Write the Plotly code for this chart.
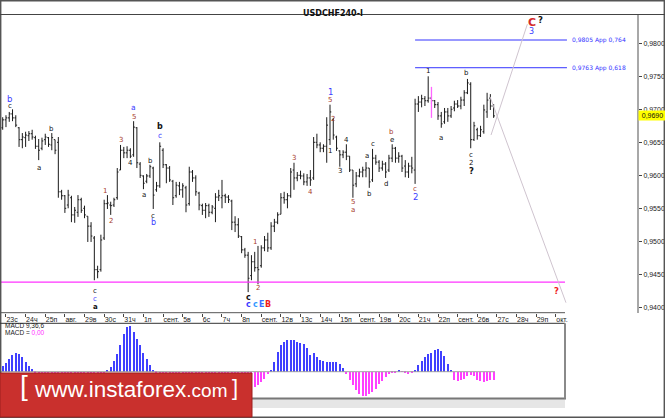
import plotly.graph_objects as go

W, H = 665, 418

# ---------------- DATA (USDCHF H4) ----------------
bar_high = [0.9688,0.9691,0.9696,0.9700,0.9691,0.9673,0.9664,0.9666,0.9667,0.9669,
            0.9660,0.9655,0.9657,0.9663,0.9658,0.9664,0.9654,0.9658,0.9578,0.9570,
            0.9578,0.9569,0.9552,0.9570,0.9566,0.9554,0.9538,0.9529,0.9508,0.9463,
            0.9510,0.9563,0.9570,0.9560,0.9566,0.9611,0.9646,0.9643,0.9644,0.9641,
            0.9682,0.9673,0.9620,0.9600,0.9602,0.9616,0.9613,0.9590,0.9650,0.9641,
            0.9617,0.9614,0.9593,0.9590,0.9590,0.9588,0.9584,0.9613,0.9608,0.9600,
            0.9575,0.9557,0.9558,0.9557,0.9555,0.9573,0.9578,0.9593,0.9572,0.9570,
            0.9563,0.9538,0.9535,0.9508,0.9490,0.9484,0.9479,0.9484,0.9493,0.9494,
            0.9508,0.9513,0.9529,0.9534,0.9544,0.9573,0.9575,0.9573,0.9611,0.9619,
            0.9605,0.9607,0.9603,0.9602,0.9608,0.9658,0.9663,0.9650,0.9647,0.9688,
            0.9707,0.9687,0.9660,0.9638,0.9638,0.9647,0.9629,0.9608,0.9605,0.9610,
            0.9613,0.9620,0.9611,0.9640,0.9631,0.9623,0.9622,0.9620,0.9631,0.9647,
            0.9643,0.9635,0.9631,0.9623,0.9619,0.9628,0.9716,0.9720,0.9722,0.9720,
            0.9750,0.9720,0.9714,0.9711,0.9696,0.9702,0.9702,0.9705,0.9713,0.9714,
            0.9719,0.9729,0.9746,0.9741,0.9681,0.9672,0.9675,0.9707,0.9725,0.9723,
            0.9708]
bar_low = [0.9669,0.9673,0.9681,0.9682,0.9673,0.9643,0.9641,0.9643,0.9652,0.9654,
           0.9640,0.9623,0.9638,0.9646,0.9643,0.9638,0.9632,0.9566,0.9563,0.9543,
           0.9550,0.9529,0.9528,0.9537,0.9543,0.9535,0.9499,0.9499,0.9441,0.9444,
           0.9454,0.9502,0.9549,0.9540,0.9552,0.9563,0.9608,0.9626,0.9626,0.9626,
           0.9628,0.9611,0.9596,0.9579,0.9588,0.9596,0.9549,0.9575,0.9581,0.9611,
           0.9588,0.9590,0.9555,0.9566,0.9570,0.9566,0.9544,0.9554,0.9590,0.9569,
           0.9547,0.9540,0.9535,0.9537,0.9541,0.9529,0.9561,0.9550,0.9558,0.9558,
           0.9517,0.9514,0.9505,0.9482,0.9475,0.9423,0.9441,0.9454,0.9435,0.9460,
           0.9485,0.9484,0.9487,0.9514,0.9526,0.9541,0.9557,0.9550,0.9566,0.9578,
           0.9591,0.9594,0.9585,0.9584,0.9584,0.9593,0.9641,0.9635,0.9635,0.9619,
           0.9646,0.9654,0.9637,0.9613,0.9626,0.9623,0.9605,0.9566,0.9582,0.9597,
           0.9597,0.9597,0.9581,0.9590,0.9616,0.9605,0.9607,0.9596,0.9605,0.9620,
           0.9619,0.9619,0.9605,0.9597,0.9596,0.9603,0.9587,0.9696,0.9703,0.9705,
           0.9710,0.9708,0.9702,0.9684,0.9672,0.9678,0.9681,0.9687,0.9697,0.9702,
           0.9700,0.9705,0.9723,0.9641,0.9652,0.9654,0.9658,0.9663,0.9687,0.9699,
           0.9687]
bar_open = [0.9672,0.9684,0.9687,0.9693,0.9687,0.9672,0.9654,0.9657,0.9660,0.9663,
            0.9657,0.9644,0.9641,0.9654,0.9657,0.9646,0.9654,0.9650,0.9575,0.9569,
            0.9555,0.9566,0.9540,0.9544,0.9563,0.9550,0.9538,0.9523,0.9505,0.9457,
            0.9457,0.9505,0.9557,0.9555,0.9555,0.9566,0.9608,0.9638,0.9634,0.9638,
            0.9631,0.9672,0.9617,0.9599,0.9591,0.9599,0.9611,0.9578,0.9584,0.9638,
            0.9616,0.9611,0.9591,0.9569,0.9584,0.9578,0.9581,0.9557,0.9605,0.9596,
            0.9573,0.9554,0.9547,0.9554,0.9544,0.9550,0.9567,0.9566,0.9569,0.9567,
            0.9561,0.9529,0.9525,0.9507,0.9487,0.9479,0.9448,0.9469,0.9460,0.9463,
            0.9490,0.9502,0.9490,0.9523,0.9529,0.9541,0.9566,0.9563,0.9569,0.9608,
            0.9596,0.9600,0.9599,0.9590,0.9596,0.9596,0.9650,0.9646,0.9641,0.9644,
            0.9654,0.9684,0.9658,0.9637,0.9631,0.9635,0.9629,0.9608,0.9587,0.9599,
            0.9605,0.9608,0.9611,0.9593,0.9626,0.9620,0.9611,0.9617,0.9608,0.9626,
            0.9641,0.9626,0.9629,0.9614,0.9605,0.9614,0.9608,0.9708,0.9711,0.9716,
            0.9713,0.9717,0.9713,0.9707,0.9690,0.9681,0.9696,0.9690,0.9702,0.9708,
            0.9705,0.9714,0.9725,0.9738,0.9654,0.9669,0.9660,0.9666,0.9696,0.9717,
            0.9705]
bar_close = [0.9684,0.9687,0.9693,0.9687,0.9676,0.9654,0.9658,0.9661,0.9663,0.9658,
             0.9644,0.9638,0.9652,0.9658,0.9647,0.9657,0.9638,0.9575,0.9569,0.9550,
             0.9570,0.9540,0.9547,0.9563,0.9547,0.9540,0.9523,0.9508,0.9457,0.9454,
             0.9502,0.9557,0.9558,0.9554,0.9563,0.9605,0.9638,0.9634,0.9638,0.9629,
             0.9673,0.9619,0.9600,0.9588,0.9599,0.9613,0.9570,0.9584,0.9644,0.9616,
             0.9611,0.9593,0.9566,0.9585,0.9578,0.9584,0.9555,0.9605,0.9596,0.9575,
             0.9555,0.9547,0.9554,0.9544,0.9552,0.9567,0.9569,0.9569,0.9567,0.9563,
             0.9529,0.9525,0.9508,0.9487,0.9479,0.9444,0.9469,0.9460,0.9457,0.9490,
             0.9502,0.9490,0.9523,0.9529,0.9540,0.9566,0.9563,0.9569,0.9605,0.9596,
             0.9600,0.9599,0.9590,0.9596,0.9593,0.9650,0.9646,0.9641,0.9644,0.9676,
             0.9696,0.9661,0.9641,0.9631,0.9635,0.9629,0.9608,0.9585,0.9599,0.9605,
             0.9608,0.9611,0.9590,0.9626,0.9620,0.9611,0.9617,0.9605,0.9626,0.9641,
             0.9626,0.9629,0.9611,0.9605,0.9614,0.9611,0.9708,0.9711,0.9716,0.9713,
             0.9717,0.9713,0.9707,0.9690,0.9678,0.9696,0.9690,0.9700,0.9708,0.9705,
             0.9714,0.9725,0.9740,0.9654,0.9675,0.9660,0.9669,0.9699,0.9714,0.9705,
             0.9690]

# MACD(9,36,6) histogram, in points (0.0001)
macd_hist = [5.7,8.3,12.3,16.7,18.3,18.0,14.5,9.5,5.7,2.3,
             -1,-3,-5,-7,-9,-11,-12,-14,-17,-19,-21,-23,-24,-25,-25,-24,-22,-20,-16,-11,-6,-2,
             1.7,5,11,18,27,38,45,46,40,33,27,19,13,7,2,
             -1,-2,-4,-5,-6,-7,-8,-9,-10,-10,-11,-12,-13,-14,-15,-16,-17,-18,-19,-19,
             -20,-20,-21,-21,-21,-20,-20,-19,-18,-17,
             -15,-13,-10,-7,-2,
             1.7,10,20,26.7,30,31.7,31.7,31.7,30,29,27.7,23.3,16.7,18.3,15,11.7,11,10,10,10,
             9.7,8,4,-2,-8,-13.7,-18.7,-22,-24.3,-24.3,-22,-20,-17,-12,-9.3,-5.3,-2.7,-1,-0.5,1,
             -0.3,-0.7,-2,-1,1.3,6.3,10.3,14.7,17.3,18.7,21.3,22.3,20.3,15.3,8,2,
             -8.7,-9.3,-8,-7,-4.7,-3.7,-4.7,-8,-9.3,-10.3,-9.3,-8,-8.7]

day_labels = ["23с","24ч","25п","авг.","29в","30с","31ч","1п","сент.","5в","6с","7ч","8п",
              "сент.","12в","13с","14ч","15п","сент.","19в","20с","21ч","22п","сент.",
              "26в","27с","28ч","29п","окт."]
bars_per_day = 6
price_ticks = [0.9400,0.9450,0.9500,0.9550,0.9600,0.9650,0.9700,0.9750,0.9800]
price_tick_text = ["0,9400","0,9450","0,9500","0,9550","0,9600","0,9650","0,9700","0,9750","0,9800"]

fib_levels = [0.9805, 0.9763]
fib_texts = ["0,9805 App 0,764", "0,9763 App 0,618"]
fib_start, fib_end = 126.0, 172.4
support_level = 0.9438
last_price = 0.9690
last_price_text = "0,9690"

proj_up = ([149.2, 160.3], [0.9661, 0.9829])
proj_down = ([148.9, 172.1], [0.9719, 0.9407])
pink_marker = ([131, 131], [0.9734, 0.9687])

BLUE = "#3c3cff"
BROWN = "#a8402c"
BLACK = "#111111"
RED = "#ee1c1c"

# (text, bar index, price, color, size, bold)
wave_labels = [
    ("b", 2.1, 0.9716, BLUE, 8.5, False), ("c", 2.1, 0.9705, BLACK, 7, False),
    ("b", 15.0, 0.9670, BLACK, 7, False), ("a", 11.2, 0.9611, BLACK, 7, False),
    ("3", 36.1, 0.9654, BROWN, 7, False), ("1", 31.3, 0.9576, BROWN, 7, False),
    ("2", 33.1, 0.9531, BROWN, 7, False), ("4", 39.1, 0.9619, BLACK, 7, False),
    ("a", 40.1, 0.9702, BLUE, 7.5, False), ("5", 40.1, 0.9688, BROWN, 7, False),
    ("b", 48.2, 0.9674, BLACK, 8, True), ("c", 48.1, 0.9661, BLUE, 7.5, False),
    ("b", 45.2, 0.9622, BLACK, 7, False), ("a", 43.2, 0.9570, BLACK, 7, False),
    ("c", 46.0, 0.9539, BLACK, 7, False), ("b", 46.0, 0.9528, BLUE, 8, False),
    ("c", 28.2, 0.9424, BLACK, 7, False), ("c", 28.2, 0.9413, BLUE, 7, False),
    ("a", 28.2, 0.9400, BLACK, 7, True),
    ("1", 77.1, 0.9499, BROWN, 7, False), ("2", 78.1, 0.9429, BROWN, 7, False),
    ("c", 75.0, 0.9415, BLACK, 8, True),
    ("c", 75.0, 0.9404, BLUE, 8, True), ("c", 77.1, 0.9404, "#3399ff", 8, True),
    ("E", 79.1, 0.9404, "#3a6cff", 8, True), ("B", 81.0, 0.9404, RED, 8, True),
    ("3", 89.1, 0.9626, BROWN, 7, False), ("4", 94.0, 0.9575, BROWN, 7, False),
    ("1", 100.0, 0.9726, BLUE, 8.5, False), ("5", 100.0, 0.9714, BROWN, 7, False),
    ("2", 101.0, 0.9685, BROWN, 7, False), ("1", 100.0, 0.9637, BLACK, 7, False),
    ("4", 105.1, 0.9654, BLACK, 7, False), ("3", 103.0, 0.9606, BLACK, 7, False),
    ("5", 107.0, 0.9560, BROWN, 7, False), ("a", 107.0, 0.9547, BROWN, 7, False),
    ("a", 111.2, 0.9630, BLACK, 7, False), ("b", 112.1, 0.9571, BLACK, 7, False),
    ("c", 113.0, 0.9647, BLACK, 7, False),
    ("b", 118.9, 0.9665, BROWN, 7, False), ("e", 118.9, 0.9653, BLACK, 7, False),
    ("d", 117.1, 0.9587, BLACK, 7, False),
    ("c", 126.0, 0.9579, BROWN, 7, False), ("2", 126.0, 0.9567, BLUE, 8.5, False),
    ("1", 130.0, 0.9758, BLACK, 7, False), ("a", 134.0, 0.9657, BLACK, 7, False),
    ("b", 141.8, 0.9755, BLACK, 7, False),
    ("c", 143.1, 0.9631, BLACK, 7, False), ("2", 143.1, 0.9619, BLACK, 7, False),
    ("?", 143.1, 0.9607, BLACK, 8.5, True),
    ("C", 161.6, 0.9831, "#d42a2a", 11, True), ("?", 164.2, 0.9835, BLACK, 8.5, True),
    ("3", 161.6, 0.9818, BLUE, 8, False),
    ("?", 169.1, 0.9424, RED, 8.5, True),
]

# ---------------- FIGURE ----------------
n = len(bar_close)
idx = list(range(n))

fig = go.Figure()
fig.add_trace(go.Ohlc(
    x=idx, open=bar_open, high=bar_high, low=bar_low, close=bar_close,
    increasing=dict(line=dict(color="#1a1a1a", width=1)),
    decreasing=dict(line=dict(color="#1a1a1a", width=1)),
    tickwidth=0.4, xaxis="x", yaxis="y", showlegend=False, hoverinfo="skip"))

fig.add_trace(go.Scatter(x=[-0.825, 171.8], y=[support_level, support_level], mode="lines",
                         line=dict(color="#ff33ff", width=1.3), showlegend=False, hoverinfo="skip"))
for lv in fib_levels:
    fig.add_trace(go.Scatter(x=[fib_start, fib_end], y=[lv, lv], mode="lines",
                             line=dict(color="#3333ff", width=1), showlegend=False, hoverinfo="skip"))
fig.add_trace(go.Scatter(x=proj_up[0], y=proj_up[1], mode="lines",
                         line=dict(color="#cfc4cf", width=1), showlegend=False, hoverinfo="skip"))
fig.add_trace(go.Scatter(x=proj_down[0], y=proj_down[1], mode="lines",
                         line=dict(color="#cfc4cf", width=1), showlegend=False, hoverinfo="skip"))
fig.add_trace(go.Scatter(x=pink_marker[0], y=pink_marker[1], mode="lines",
                         line=dict(color="#ff66ff", width=1.3), showlegend=False, hoverinfo="skip"))

fig.add_trace(go.Bar(x=idx, y=macd_hist, xaxis="x2", yaxis="y2", width=0.36,
                     marker=dict(color=["#4040ff" if v >= 0 else "#ff40ff" for v in macd_hist],
                                 line=dict(width=0)),
                     showlegend=False, hoverinfo="skip"))
fig.add_trace(go.Scatter(x=[-0.825, n - 0.6], y=[0, 0], xaxis="x2", yaxis="y2", mode="lines",
                         line=dict(color="#a0a0a0", width=1), showlegend=False, hoverinfo="skip"))

def py(ypx):
    return 1 - ypx / H

def px(xpx):
    return xpx / W

x_range_main = [-0.825, 193.8]
x_range_macd = [-0.825, 171.8]
AX_FONT = dict(size=7, color="#222", family="Liberation Sans")

fig.update_layout(
    width=W, height=H, margin=dict(l=0, r=0, t=0, b=0, autoexpand=False),
    paper_bgcolor="white", plot_bgcolor="white", bargap=0,
    font=dict(family="DejaVu Sans", size=7, color="#222"),
    xaxis=dict(domain=[0, px(637)], range=x_range_main, rangeslider=dict(visible=False),
               automargin=False, showgrid=False, zeroline=False, showline=False,
               tickvals=[1 + bars_per_day * k for k in range(len(day_labels))],
               ticktext=day_labels, ticks="outside", ticklen=3, tickcolor="#444",
               ticklabelposition="outside right", tickangle=0, ticklabelstandoff=0,
               tickfont=AX_FONT, anchor="y"),
    yaxis=dict(domain=[py(313), py(15)], range=[0.939136, 0.984288], side="right",
               automargin=False, showgrid=False, zeroline=False, showline=True,
               linecolor="#a8a8a8", linewidth=2,
               tickvals=price_ticks, ticktext=price_tick_text, ticks="outside", ticklen=3,
               ticklabelstandoff=0, tickcolor="#444", tickfont=AX_FONT, anchor="x"),
    xaxis2=dict(domain=[0, px(565)], range=x_range_macd, showgrid=False, zeroline=False,
                automargin=False, showline=False, showticklabels=False, ticks="", anchor="y2"),
    yaxis2=dict(domain=[py(398), py(323)], range=[-26.3, 48.7], showgrid=False, zeroline=False,
                automargin=False, showline=False, showticklabels=False, ticks="", anchor="x2"),
)

shapes = []
shapes.append(dict(type="rect", xref="paper", yref="paper", x0=0.001, x1=0.999, y0=0.0015, y1=0.9985,
                   line=dict(color="#555", width=1.5)))
shapes.append(dict(type="line", xref="paper", yref="paper", x0=0, x1=1, y0=py(14.5), y1=py(14.5),
                   line=dict(color="#444", width=1)))
shapes.append(dict(type="line", xref="paper", yref="paper", x0=0, x1=px(565), y0=py(312.7), y1=py(312.7),
                   line=dict(color="#555", width=1)))
shapes.append(dict(type="line", xref="paper", yref="paper", x0=0, x1=px(565), y0=py(323.3), y1=py(323.3),
                   line=dict(color="#333", width=1)))
shapes.append(dict(type="rect", xref="paper", yref="paper", x0=0, x1=px(565), y0=py(408), y1=py(399),
                   fillcolor="#e6e6e6", line=dict(width=0), layer="above"))
shapes.append(dict(type="line", xref="paper", yref="paper", x0=0, x1=px(566), y0=py(398.5), y1=py(398.5),
                   line=dict(color="#777", width=2)))
shapes.append(dict(type="line", xref="paper", yref="paper", x0=px(565), x1=px(565), y0=py(398.5), y1=py(323.3),
                   line=dict(color="#8a8a8a", width=2)))
shapes.append(dict(type="rect", xref="paper", yref="paper", x0=0, x1=px(252), y0=py(417), y1=py(373),
                   fillcolor="#c9302d", line=dict(color="#9e1e1e", width=1), layer="above"))
fig.update_layout(shapes=shapes)

ann = []
ann.append(dict(text="<b>USDCHF240-I</b>", xref="paper", yref="paper", x=px(333), y=py(7),
                showarrow=False, font=dict(size=8, color="#111", family="DejaVu Sans")))
for t, i, p, c, s, b in wave_labels:
    ann.append(dict(text=f"<b>{t}</b>" if b else t, x=i, y=p, xref="x", yref="y", showarrow=False,
                    font=dict(size=s, color=c, family="DejaVu Sans")))
for lv, t in zip(fib_levels, fib_texts):
    ann.append(dict(text=t, x=173.4, y=lv, xref="x", yref="y", xanchor="left", showarrow=False,
                    font=dict(size=6, color="#3333ff", family="DejaVu Sans")))
ann.append(dict(text=last_price_text, xref="paper", yref="y", x=px(637.5), y=last_price, xanchor="left",
                showarrow=False, bgcolor="#ffff00", borderpad=1, width=25,
                font=dict(size=7, color="#111", family="Liberation Sans")))
ann.append(dict(text="MACD 9,36,6", xref="paper", yref="paper", x=px(3), y=py(331), xanchor="left",
                showarrow=False, font=dict(size=6.5, color="#222", family="Liberation Sans")))
ann.append(dict(text="MACD = <span style='color:#ff33ff'>0,00</span>", xref="paper", yref="paper",
                x=px(3), y=py(338), xanchor="left", showarrow=False,
                font=dict(size=6.5, color="#222", family="Liberation Sans")))
ann.append(dict(text="[", xref="paper", yref="paper", x=px(18), y=py(403), showarrow=False,
                font=dict(size=28, color="white", family="Liberation Sans")))
ann.append(dict(text="www.instaforex<span style='font-size:19px'>.com</span>", xref="paper", yref="paper",
                x=px(32), y=py(404), xanchor="left", showarrow=False,
                font=dict(size=22.5, color="white", family="Liberation Sans")))
ann.append(dict(text="]", xref="paper", yref="paper", x=px(235), y=py(402), showarrow=False,
                font=dict(size=22, color="white", family="Liberation Sans")))
fig.update_layout(annotations=ann)

fig.write_html("out.html", config={"displayModeBar": False},
               post_script="document.body.style.margin='0';document.body.style.overflow='hidden';")
